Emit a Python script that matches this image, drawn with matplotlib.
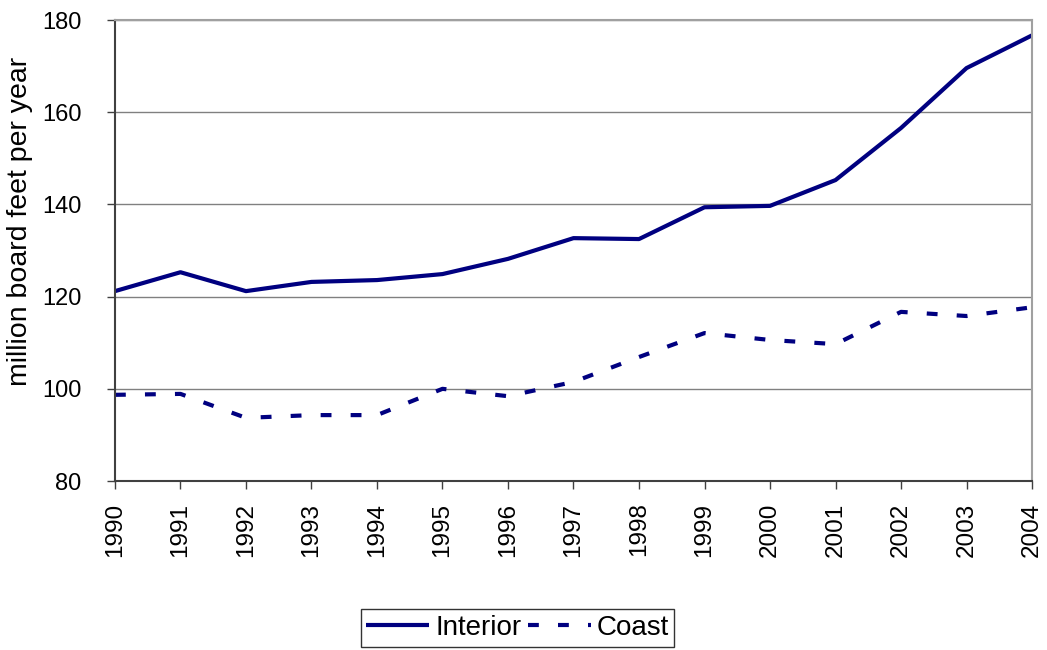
import matplotlib
matplotlib.use("Agg")
import matplotlib.pyplot as plt

years = [1990, 1991, 1992, 1993, 1994, 1995, 1996, 1997, 1998, 1999, 2000, 2001, 2002, 2003, 2004]
interior = [121.2, 125.3, 121.2, 123.2, 123.6, 124.9, 128.2, 132.7, 132.5, 139.4, 139.7, 145.3, 156.6, 169.6, 176.7]
coast = [98.7, 98.9, 93.7, 94.3, 94.3, 100.0, 98.4, 101.5, 106.9, 112.1, 110.6, 109.7, 116.7, 115.8, 117.7]
yticks = [80, 100, 120, 140, 160, 180]

plt.rcParams['font.family'] = ['Liberation Sans', 'DejaVu Sans']

fig = plt.figure(figsize=(10.47, 6.5), dpi=100)
ax = fig.add_axes([0.1098, 0.26, 0.8759, 0.709])

color = '#000080'
ax.plot(years, interior, color=color, lw=3.0, solid_joinstyle='round', solid_capstyle='butt', label='Interior')
ax.plot(years, coast, color=color, lw=3.0, linestyle=(0, (2.6, 4.6)), dash_capstyle='butt', label='Coast')

ax.set_xlim(1990, 2004)
ax.set_ylim(80, 180)
ax.set_yticks(yticks)
ax.set_xticks(years)
ax.set_xticklabels([str(y) for y in years], rotation=90, fontsize=17.5)
ax.tick_params(axis='y', labelsize=17, length=6, width=1, color='#404040', direction='out', pad=18)
ax.tick_params(axis='x', length=5.5, width=1, color='#404040', direction='out', pad=10)
ax.grid(axis='y', color='#808080', lw=1)
ax.set_axisbelow(True)
for s in ['top', 'right']:
    ax.spines[s].set_color('#a0a0a0')
    ax.spines[s].set_linewidth(1.5)
for s in ['left', 'bottom']:
    ax.spines[s].set_color('#404040')
    ax.spines[s].set_linewidth(1.5)

fig.text(20 / 1047, 1 - 221 / 650, 'million board feet per year', rotation=90,
         ha='center', va='center', fontsize=20.5)

leg = fig.legend(loc='center', bbox_to_anchor=(0.4943, 0.0338), ncol=2, fontsize=20,
                 frameon=True, fancybox=False, edgecolor='black', handlelength=2.27,
                 handletextpad=0.22, columnspacing=0.22, borderpad=0.2, borderaxespad=0)
leg.get_frame().set_linewidth(1.0)

fig.savefig('out.png', dpi=100)
